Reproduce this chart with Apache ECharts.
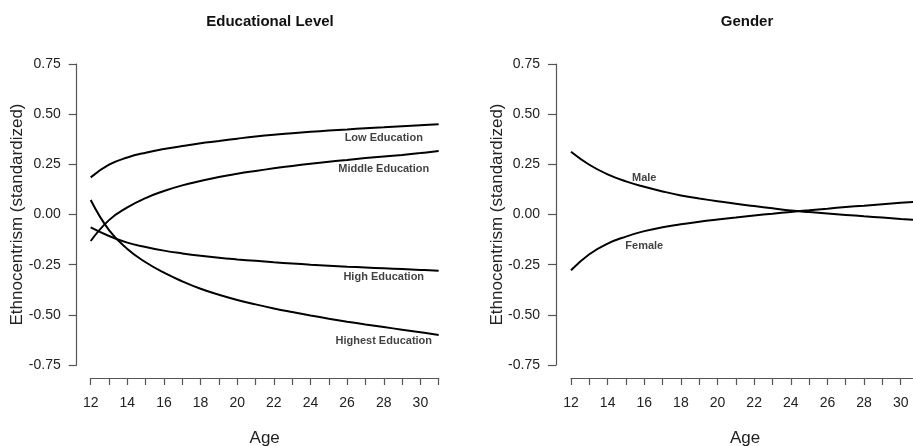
<!DOCTYPE html>
<html>
<head>
<meta charset="utf-8">
<script src="https://cdn.jsdelivr.net/npm/echarts@6/dist/echarts.min.js"></script>
<style>
  html, body { margin: 0; padding: 0; background: #fff; }
  #chart { width: 913px; height: 446px; }
</style>
</head>
<body>
<div id="chart"></div>
<script>
// ages (x values shared by all curves)
const ages = [12, 13, 14, 15, 16, 17, 18, 19, 20, 21, 22, 23, 24, 25, 26, 27, 28, 29, 30, 31]

// Educational Level panel
const lowEdu = [0.185, 0.248, 0.284, 0.308, 0.326, 0.341, 0.355, 0.366, 0.378, 0.389, 0.398, 0.405, 0.412, 0.418, 0.424, 0.430, 0.435, 0.440, 0.445, 0.450]
const middleEdu = [-0.132, -0.028, 0.035, 0.082, 0.117, 0.145, 0.167, 0.187, 0.203, 0.217, 0.230, 0.242, 0.253, 0.263, 0.272, 0.281, 0.289, 0.297, 0.306, 0.316]
const highEdu = [-0.064, -0.107, -0.140, -0.162, -0.180, -0.194, -0.206, -0.216, -0.224, -0.231, -0.238, -0.244, -0.250, -0.255, -0.260, -0.264, -0.268, -0.272, -0.276, -0.280]
const highestEdu = [0.072, -0.078, -0.172, -0.238, -0.290, -0.333, -0.370, -0.400, -0.426, -0.448, -0.468, -0.486, -0.503, -0.519, -0.534, -0.548, -0.561, -0.574, -0.587, -0.600]

// Gender panel
const male = [0.313, 0.248, 0.200, 0.165, 0.138, 0.115, 0.095, 0.080, 0.066, 0.053, 0.042, 0.031, 0.020, 0.012, 0.005, -0.002, -0.009, -0.015, -0.022, -0.028]
const female = [-0.278, -0.198, -0.145, -0.110, -0.083, -0.063, -0.049, -0.036, -0.025, -0.015, -0.005, 0.004, 0.013, 0.021, 0.029, 0.037, 0.044, 0.051, 0.058, 0.065]

// curve labels: name, age, value
const eduLabels = [
  ['Low Education', 28, 0.383],
  ['Middle Education', 28, 0.225],
  ['High Education', 28, -0.313],
  ['Highest Education', 28, -0.629]
]
const genderLabels = [
  ['Male', 16, 0.183],
  ['Female', 16, -0.157]
]

const FONT = '"Liberation Sans", Arial, Helvetica, sans-serif'
const AXIS_COLOR = '#555'
const TEXT_COLOR = '#222'

const pairs = (ys) => ages.map((a, i) => [a, ys[i]])

const makeX = (gridIndex) => ({
  type: 'value',
  gridIndex,
  min: 12,
  max: 31,
  interval: 1,
  offset: 13,
  name: 'Age',
  nameLocation: 'middle',
  nameGap: 52,
  nameTextStyle: { fontSize: 17, color: TEXT_COLOR, fontFamily: FONT },
  axisLine: { show: true, onZero: false, lineStyle: { color: AXIS_COLOR, width: 1.2 } },
  axisTick: { show: true, length: 7, lineStyle: { color: AXIS_COLOR, width: 1.2 } },
  axisLabel: {
    margin: 18,
    fontSize: 14,
    color: TEXT_COLOR,
    fontFamily: FONT,
    formatter: (v) => (Math.round(v) % 2 === 0 ? String(Math.round(v)) : '')
  },
  splitLine: { show: false }
})

const makeY = (gridIndex, offset, gap) => ({
  type: 'value',
  gridIndex,
  min: -0.75,
  max: 0.75,
  interval: 0.25,
  offset,
  name: 'Ethnocentrism (standardized)',
  nameLocation: 'middle',
  nameGap: gap,
  nameMoveOverlap: false,
  nameTextStyle: { fontSize: 17, color: TEXT_COLOR, fontFamily: FONT },
  axisLine: { show: true, onZero: false, lineStyle: { color: AXIS_COLOR, width: 1.2 } },
  axisTick: { show: true, length: 8, lineStyle: { color: AXIS_COLOR, width: 1.2 } },
  axisLabel: {
    margin: 16,
    fontSize: 14,
    color: TEXT_COLOR,
    fontFamily: FONT,
    formatter: (v) => {
      const s = v.toFixed(2)
      return s === '-0.00' ? '0.00' : s
    }
  },
  splitLine: { show: false }
})

const curve = (name, ys, idx) => ({
  name,
  type: 'line',
  xAxisIndex: idx,
  yAxisIndex: idx,
  data: pairs(ys),
  smooth: 0.45,
  showSymbol: false,
  symbol: 'none',
  silent: true,
  lineStyle: { color: '#000', width: 2 }
})

const labelSeries = (labels, idx) => ({
  type: 'scatter',
  xAxisIndex: idx,
  yAxisIndex: idx,
  symbolSize: 0,
  silent: true,
  data: labels.map(l => ({ name: l[0], value: [l[1], l[2]] })),
  label: {
    show: true,
    position: 'inside',
    formatter: (p) => p.name,
    fontSize: 11,
    fontWeight: 'bold',
    color: '#111',
    fontFamily: FONT
  }
})

const chart = echarts.init(document.getElementById('chart'), null, { renderer: 'canvas' })

chart.setOption({
  backgroundColor: '#fff',
  animation: false,
  title: [
    {
      text: 'Educational Level',
      left: 265,
      top: 9,
      textAlign: 'center',
      textStyle: { fontSize: 15, fontWeight: 'bold', color: '#111', fontFamily: FONT }
    },
    {
      text: 'Gender',
      left: 742,
      top: 9,
      textAlign: 'center',
      textStyle: { fontSize: 15, fontWeight: 'bold', color: '#111', fontFamily: FONT }
    }
  ],
  grid: [
    { left: 90.7, top: 64, width: 348, height: 301, outerBoundsMode: 'none', containLabel: false },
    { left: 571, top: 64, width: 348, height: 301, outerBoundsMode: 'none', containLabel: false }
  ],
  xAxis: [makeX(0), makeX(1)],
  yAxis: [makeY(0, 14, 51), makeY(1, 15, 50)],
  series: [
    curve('Low Education', lowEdu, 0),
    curve('Middle Education', middleEdu, 0),
    curve('High Education', highEdu, 0),
    curve('Highest Education', highestEdu, 0),
    labelSeries(eduLabels, 0),
    curve('Male', male, 1),
    curve('Female', female, 1),
    labelSeries(genderLabels, 1)
  ]
})

window.addEventListener('resize', () => {
  chart?.resize()
})
</script>
</body>
</html>
